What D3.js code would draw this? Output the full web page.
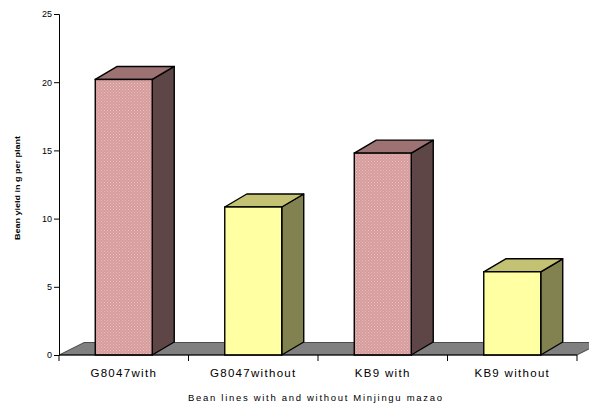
<!DOCTYPE html>
<html>
<head>
<meta charset="utf-8">
<script src="https://cdn.jsdelivr.net/npm/d3@7"></script>
<style>
body { margin: 0; background: #fff; }
text { font-family: "Liberation Sans", Arial, sans-serif; }
</style>
</head>
<body>
<svg width="589" height="406"></svg>
<script>
var categories = ["G8047with", "G8047without", "KB9 with", "KB9 without"];
var values = [20.2, 10.85, 14.8, 6.1];
var kinds = ["with", "without", "with", "without"];
var yTicks = [0, 5, 10, 15, 20, 25];

var svg = d3.select("svg");
var margin = { left: 59, right: 12, top: 14, bottom: 51 };
var width = 589 - margin.left - margin.right;
var height = 406 - margin.top - margin.bottom;
var depth = { dx: 22, dy: -13 };
var floorDepth = { dx: 25, dy: -12.5 };

var colors = {
    with: { front: "#d49c9c", top: "#9c7272", side: "#5f4646", dot: "#ecbcbc" },
    without: { front: "#ffff99", top: "#c2c272", side: "#828250", dot: "#ffffc0" }
};

var defs = svg.append("defs");
Object.keys(colors).forEach(k => {
    var p = defs.append("pattern")
        .attr("id", "pat-" + k)
        .attr("width", 3).attr("height", 3)
        .attr("patternUnits", "userSpaceOnUse");
    p.append("rect").attr("width", 3).attr("height", 3).attr("fill", colors[k].front);
    p.append("rect").attr("width", 1).attr("height", 1).attr("fill", colors[k].dot);
    p.append("rect").attr("x", 1.5).attr("y", 1.5).attr("width", 1).attr("height", 1).attr("fill", colors[k].dot);
});

var g = svg.append("g").attr("transform", `translate(${margin.left},${margin.top})`);

var x = d3.scaleBand().domain(categories).range([0, width]).paddingInner(0.56).paddingOuter(0.28);
var y = d3.scaleLinear().domain([0, 25]).range([height, 0]);

// floor
var fx0 = 0, fx1 = width, fy = y(0);
g.append("path")
    .attr("d", `M${fx0},${fy}L${fx0 + floorDepth.dx},${fy + floorDepth.dy}L${fx1 + floorDepth.dx},${fy + floorDepth.dy}L${fx1},${fy}Z`)
    .attr("fill", "#808080")
    .attr("stroke", "#000")
    .attr("stroke-width", 0.6);

// bars
var bars = g.selectAll("g.bar").data(categories.map((c, i) => ({ name: c, value: values[i], kind: kinds[i] })))
    .enter().append("g").attr("class", "bar");

bars.append("path")
    .attr("d", d => {
        var x0 = x(d.name) + x.bandwidth(), y0 = y(d.value), y1 = y(0);
        return `M${x0},${y0}L${x0 + depth.dx},${y0 + depth.dy}L${x0 + depth.dx},${y1 + depth.dy}L${x0},${y1}Z`;
    })
    .attr("fill", d => colors[d.kind].side)
    .attr("stroke", "#000").attr("stroke-width", 1.4).attr("stroke-linejoin", "round");

bars.append("path")
    .attr("d", d => {
        var x0 = x(d.name), x1 = x0 + x.bandwidth(), y0 = y(d.value);
        return `M${x0},${y0}L${x0 + depth.dx},${y0 + depth.dy}L${x1 + depth.dx},${y0 + depth.dy}L${x1},${y0}Z`;
    })
    .attr("fill", d => colors[d.kind].top)
    .attr("stroke", "#000").attr("stroke-width", 1.4).attr("stroke-linejoin", "round");

bars.append("rect")
    .attr("x", d => x(d.name))
    .attr("y", d => y(d.value))
    .attr("width", x.bandwidth())
    .attr("height", d => y(0) - y(d.value))
    .attr("fill", d => "url(#pat-" + d.kind + ")")
    .attr("stroke", "#000").attr("stroke-width", 1.4);

// y axis
var yAxis = g.append("g")
    .call(d3.axisLeft(y).tickValues(yTicks).tickSize(5).tickPadding(2));
yAxis.select(".domain").attr("stroke", "#000").attr("stroke-width", 1);
yAxis.selectAll("text").attr("font-size", 9).attr("fill", "#000")
    .attr("font-family", "'Liberation Sans', Arial, sans-serif");

// x axis
var xEdges = d3.scaleLinear().domain([0, categories.length]).range([0, width]);
var xAxis = g.append("g").attr("transform", `translate(0,${height})`);
xAxis.append("line").attr("x1", 0).attr("x2", width).attr("stroke", "#000");
xAxis.selectAll("line.tick").data(d3.range(categories.length + 1)).enter()
    .append("line").attr("class", "tick")
    .attr("x1", d => xEdges(d)).attr("x2", d => xEdges(d))
    .attr("y1", 0).attr("y2", 6).attr("stroke", "#000");
xAxis.selectAll("text").data(categories).enter()
    .append("text")
    .attr("x", d => x(d) + x.bandwidth() / 2)
    .attr("y", 22)
    .attr("text-anchor", "middle")
    .attr("font-size", 11.5)
    .attr("letter-spacing", 1.3)
    .text(d => d);

// titles
svg.append("text")
    .attr("x", margin.left + width / 2 - 3)
    .attr("y", 401)
    .attr("text-anchor", "middle")
    .attr("font-size", 9.5)
    .attr("textLength", 254)
    .attr("lengthAdjust", "spacing")
    .text("Bean lines with and without Minjingu mazao");

svg.append("text")
    .attr("transform", "translate(20,188) rotate(-90)")
    .attr("text-anchor", "middle")
    .attr("font-size", 8)
    .attr("font-weight", "bold")
    .attr("textLength", 104)
    .attr("lengthAdjust", "spacingAndGlyphs")
    .text("Bean yield in g per plant");
</script>
</body>
</html>
